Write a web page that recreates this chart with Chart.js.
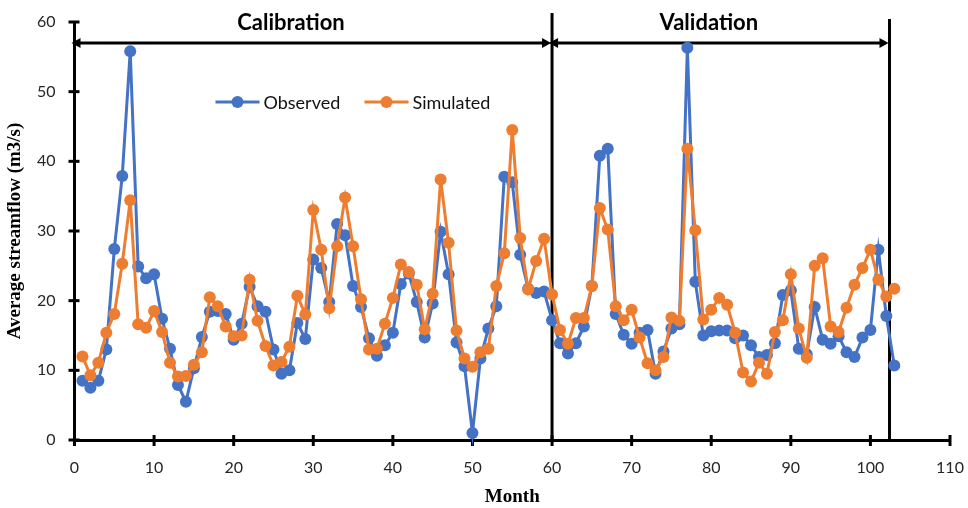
<!DOCTYPE html>
<html>
<head>
<meta charset="utf-8">
<script src="https://cdn.jsdelivr.net/npm/chart.js"></script>
<style>
  html, body { margin: 0; padding: 0; background: #fff; }
  #wrap { width: 968px; height: 508px; }
</style>
</head>
<body>
<div id="wrap"><canvas id="flow_chart" width="968" height="508"></canvas></div>
<script>
// month index 1..103
const months = Array.from({ length: 103 }, (_, i) => i + 1);

const observed = [
    8.5, 7.5, 8.5, 13.0, 27.4, 37.9, 55.8, 24.9, 23.2, 23.8,
    17.4, 13.1, 7.9, 5.5, 10.3, 14.8, 18.4, 18.5, 18.1, 14.4,
    16.7, 22.0, 19.2, 18.4, 13.0, 9.5, 10.0, 16.8, 14.5, 25.9,
    24.7, 19.8, 31.0, 29.4, 22.1, 19.1, 14.6, 12.1, 13.6, 15.4,
    22.4, 23.9, 19.8, 14.7, 19.6, 29.9, 23.8, 14.0, 10.6, 1.0,
    11.7, 16.0, 19.2, 37.8, 37.0, 26.6, 21.7, 21.1, 21.3, 17.2,
    13.9, 12.4, 13.9, 16.3, 22.1, 40.8, 41.8, 18.1, 15.1, 13.8,
    15.4, 15.8, 9.5, 12.7, 16.0, 16.6, 56.3, 22.7, 15.0, 15.6,
    15.7, 15.7, 14.6, 15.0, 13.6, 11.9, 12.2, 13.9, 20.8, 21.5,
    13.1, 12.3, 19.1, 14.4, 13.8, 14.9, 12.6, 11.9, 14.7, 15.8,
    27.3, 17.8, 10.7
];

const simulated = [
    12.0, 9.3, 11.1, 15.4, 18.1, 25.3, 34.4, 16.6, 16.1, 18.5,
    15.5, 11.1, 9.1, 9.2, 10.8, 12.6, 20.5, 19.2, 16.3, 14.9,
    15.0, 23.0, 17.1, 13.5, 10.7, 11.2, 13.4, 20.7, 18.0, 33.0,
    27.3, 18.9, 27.8, 34.8, 27.8, 20.2, 13.0, 13.1, 16.7, 20.4,
    25.2, 24.1, 22.3, 15.9, 21.0, 37.4, 28.3, 15.7, 11.7, 10.5,
    12.6, 13.1, 22.1, 26.8, 44.5, 29.0, 21.6, 25.7, 28.9, 20.9,
    15.8, 13.8, 17.5, 17.5, 22.1, 33.3, 30.2, 19.2, 17.2, 18.7,
    14.7, 11.0, 10.0, 11.9, 17.6, 17.1, 41.8, 30.1, 17.3, 18.7,
    20.4, 19.4, 15.4, 9.7, 8.4, 11.1, 9.5, 15.5, 17.2, 23.8,
    16.0, 11.8, 25.0, 26.1, 16.3, 15.5, 19.0, 22.3, 24.7, 27.3,
    23.0, 20.6, 21.7
];

// period boundaries (month) and their labels
const periodBounds = [0, 60, 102.4];
const periodNames = ["Calibration", "Validation"];
const periodLabelAt = [27.2, 79.7];
const arrowLevel = 57;

const BLUE = "#4472C4";
const ORANGE = "#ED7D31";
const tickFont = { family: "Lato", size: 16 };

function toPoints(values) {
    return months.map((m, i) => ({ x: m, y: values[i] }));
}

function arrowHead(ctx, x, y, dir) {
    ctx.beginPath();
    ctx.moveTo(x, y);
    ctx.lineTo(x - dir * 9, y - 5);
    ctx.lineTo(x - dir * 9, y + 5);
    ctx.closePath();
    ctx.fill();
}

const periodPlugin = {
    id: "periods",
    beforeDatasetsDraw(chart) {
        const { ctx, scales, chartArea } = chart;
        const xs = scales.x, ys = scales.y;
        ctx.save();
        ctx.strokeStyle = "#000";
        ctx.fillStyle = "#000";

        // crossing tick marks
        ctx.lineWidth = 3;
        xs.ticks.forEach((t) => {
            const px = xs.getPixelForValue(t.value);
            ctx.beginPath();
            ctx.moveTo(px, chartArea.bottom - 5);
            ctx.lineTo(px, chartArea.bottom + 6);
            ctx.stroke();
        });
        ys.ticks.forEach((t) => {
            const py = ys.getPixelForValue(t.value);
            ctx.beginPath();
            ctx.moveTo(chartArea.left - 6, py);
            ctx.lineTo(chartArea.left + 5, py);
            ctx.stroke();
        });

        // period separators
        periodBounds.slice(1).forEach((b, i) => {
            const px = xs.getPixelForValue(b);
            ctx.beginPath();
            ctx.moveTo(px, chartArea.bottom);
            ctx.lineTo(px, chartArea.top - (i === 0 ? 9 : 3));
            ctx.stroke();
        });

        // double-headed arrows
        const ay = ys.getPixelForValue(arrowLevel);
        for (let i = 0; i < periodBounds.length - 1; i++) {
            const x1 = xs.getPixelForValue(periodBounds[i]);
            const x2 = xs.getPixelForValue(periodBounds[i + 1]);
            ctx.lineWidth = 3;
            ctx.beginPath();
            ctx.moveTo(x1 + 4, ay);
            ctx.lineTo(x2 - 4, ay);
            ctx.stroke();
            arrowHead(ctx, x1 - 3, ay, -1);
            arrowHead(ctx, x2 - 1, ay, 1);
        }

        // period names
        ctx.font = "bold 22px Lato";
        ctx.textAlign = "center";
        ctx.textBaseline = "middle";
        periodNames.forEach((name, i) => {
            ctx.fillText(name, xs.getPixelForValue(periodLabelAt[i]), chartArea.top + 1);
        });
        ctx.restore();
    },
    afterDatasetsDraw(chart) {
        // legend: line + marker samples
        const { ctx, chartArea } = chart;
        const y = chartArea.top + 80;
        const items = [
            { label: "Observed", color: BLUE, x: chartArea.left + 141 },
            { label: "Simulated", color: ORANGE, x: chartArea.left + 290 }
        ];
        ctx.save();
        ctx.font = "18px Lato";
        ctx.textBaseline = "middle";
        ctx.textAlign = "left";
        items.forEach((it) => {
            ctx.strokeStyle = it.color;
            ctx.fillStyle = it.color;
            ctx.lineWidth = 3;
            ctx.beginPath();
            ctx.moveTo(it.x, y);
            ctx.lineTo(it.x + 44, y);
            ctx.stroke();
            ctx.beginPath();
            ctx.arc(it.x + 22, y, 6, 0, Math.PI * 2);
            ctx.fill();
            ctx.fillStyle = "#111";
            ctx.fillText(it.label, it.x + 48, y + 1);
        });
        ctx.restore();
    }
};

new Chart(document.getElementById("flow_chart"), {
    type: "line",
    data: {
        datasets: [
            {
                label: "Observed",
                data: toPoints(observed),
                borderColor: BLUE,
                backgroundColor: BLUE,
                borderWidth: 3,
                pointRadius: 6,
                pointBorderWidth: 0,
                tension: 0,
                order: 2
            },
            {
                label: "Simulated",
                data: toPoints(simulated),
                borderColor: ORANGE,
                backgroundColor: ORANGE,
                borderWidth: 3,
                pointRadius: 6,
                pointBorderWidth: 0,
                tension: 0,
                order: 1
            }
        ]
    },
    options: {
        responsive: false,
        animation: false,
        clip: false,
        layout: { padding: { left: 0, right: 18, top: 22, bottom: 0 } },
        plugins: {
            legend: { display: false },
            tooltip: { enabled: false }
        },
        scales: {
            x: {
                type: "linear",
                min: 0,
                max: 110,
                afterFit: (s) => {
                    s.height = 68;
                    s.paddingLeft = 0;
                    s.paddingRight = 0;
                },
                grid: { display: false },
                border: { display: true, color: "#000", width: 3 },
                ticks: { stepSize: 10, padding: 10, color: "#262626", font: tickFont, maxRotation: 0 },
                title: {
                    display: true,
                    text: "Month",
                    color: "#000",
                    padding: { top: 0, bottom: 0 },
                    font: { family: "Liberation Serif", size: 19, weight: "bold" }
                }
            },
            y: {
                min: 0,
                max: 60,
                afterFit: (s) => {
                    s.width = 74.5;
                    s.paddingTop = 0;
                    s.paddingBottom = 0;
                },
                grid: { display: false },
                border: { display: true, color: "#000", width: 3 },
                ticks: { stepSize: 10, padding: 11, color: "#262626", font: tickFont },
                title: {
                    display: true,
                    text: "Average streamflow (m3/s)",
                    color: "#000",
                    padding: { top: 4, bottom: 4 },
                    font: { family: "Liberation Serif", size: 19, weight: "bold" }
                }
            }
        }
    },
    plugins: [periodPlugin]
});
</script>
</body>
</html>
